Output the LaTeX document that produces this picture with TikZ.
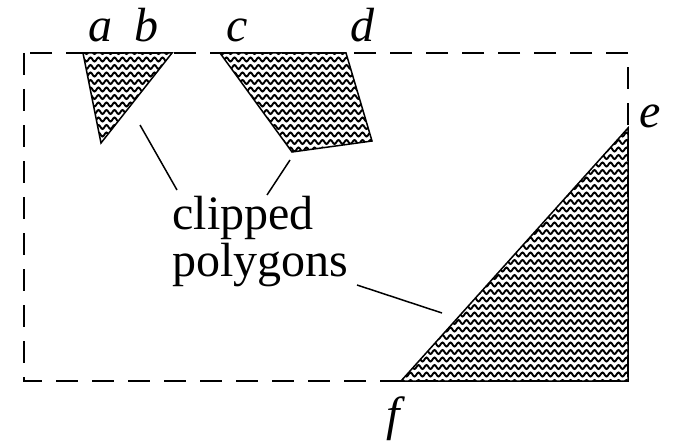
\documentclass[tikz,border=0pt]{standalone}
\usepackage{fontspec}
\setmainfont{Liberation Serif}
\usetikzlibrary{decorations.pathmorphing}

\tikzset{
  edge/.style={line width=0.75pt},
  window/.style={line width=0.75pt,dash pattern=on 11pt off 7pt},
  wavy/.style={line width=0.95pt,decorate,decoration={snake,segment length=4pt,amplitude=1pt}},
  corner/.style={font=\fontsize{24}{24}\selectfont\itshape,anchor=base,inner sep=0pt},
}

% fill a polygon with wavy rows and draw its border
\newcommand{\wavefill}[1]{%
  \begin{scope}
    \clip #1;
    \foreach \y in {52,59.5,...,392} \draw[wavy] (0,\y) -- (673,\y);
  \end{scope}
  \draw[edge] #1;
}

\begin{document}
\begin{tikzpicture}[x=0.5pt,y=-0.5pt]
\useasboundingbox (0,0) rectangle (673,444);

% clip window
\draw[window] (24,53) rectangle (628,381);

% clipped polygons
\wavefill{(83,53) -- (172,53) -- (101,143) -- cycle}
\wavefill{(220,53) -- (346,53) -- (372,141) -- (292,152) -- cycle}
\wavefill{(401,381) -- (628,128) -- (628,381) -- cycle}

% corner labels
\node[corner] (a) at (100,42) {a};
\node[corner] (b) at (146,42) {b};
\node[corner] (c) at (237,42) {c};
\node[corner] (d) at (362,42) {d};
\node[corner] (e) at (650,127) {e};
\node[corner] (f) at (393,430) {f};

% caption and leaders
\node[font=\fontsize{24}{23.5}\selectfont,align=left,anchor=north west,inner sep=0pt]
  (txt) at (172,196) {clipped\\polygons};
\coordinate (tipA) at (140,125);
\coordinate (tipB) at (290,160);
\coordinate (tipC) at (442,313);
\coordinate (txtA) at (177,190);
\coordinate (txtB) at (267,195);
\coordinate (txtC) at (357,285);
\draw[edge] (tipA) -- (txtA);
\draw[edge] (tipB) -- (txtB);
\draw[edge] (tipC) -- (txtC);
\end{tikzpicture}
\end{document}
